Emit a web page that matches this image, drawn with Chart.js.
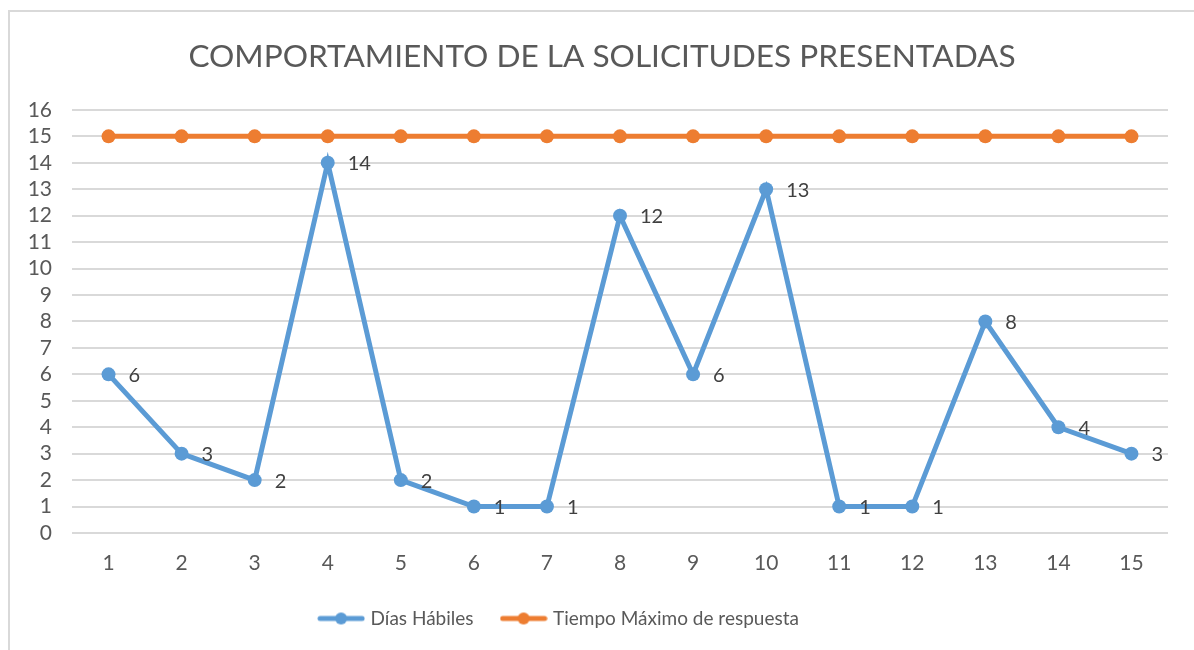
<!DOCTYPE html>
<html>
<head>
<meta charset="utf-8">
<script src="https://cdn.jsdelivr.net/npm/chart.js@4.4.1/dist/chart.umd.min.js"></script>
<style>
  html,body{margin:0;padding:0;background:#fff;overflow:hidden}
  .frame{position:absolute;left:8px;top:10px;width:1300px;height:800px;border:2px solid #d9d9d9;box-sizing:border-box}
  .wrap{position:absolute;left:0;top:0;width:1194px;height:650px}
</style>
</head>
<body>
<div class="frame"></div>
<div class="wrap"><canvas id="chart" width="1194" height="650"></canvas></div>
<script>
// ── Data ──
var categories=['1','2','3','4','5','6','7','8','9','10','11','12','13','14','15'];
var diasHabiles=[6,3,2,14,2,1,1,12,6,13,1,1,8,4,3];
var tiempoMaximo=[15,15,15,15,15,15,15,15,15,15,15,15,15,15,15];
var yTicks=[0,1,2,3,4,5,6,7,8,9,10,11,12,13,14,15,16];

var BLUE='#5B9BD5', ORANGE='#ED7D31', TEXT='#595959', GRID='#d9d9d9';
var FONT='Lato, "Open Sans", sans-serif';

// legend swatch: line with a dot in the middle, like Excel
function swatch(color){
  var c=document.createElement('canvas');c.width=48;c.height=14;
  var x=c.getContext('2d');
  x.strokeStyle=color;x.lineWidth=5;x.lineCap='round';
  x.beginPath();x.moveTo(3,7);x.lineTo(45,7);x.stroke();
  x.fillStyle=color;x.beginPath();x.arc(24,7,6,0,Math.PI*2);x.fill();
  return c;
}

// data labels to the right of the blue points
var pointLabels={
  id:'pointLabels',
  afterDatasetsDraw:function(chart){
    var ctx=chart.ctx, meta=chart.getDatasetMeta(0);
    ctx.save();
    ctx.font='20px '+FONT;ctx.fillStyle='#404040';
    ctx.textAlign='left';ctx.textBaseline='middle';
    meta.data.forEach(function(p,i){
      ctx.fillText(String(diasHabiles[i]),p.x+20,p.y+1);
    });
    ctx.restore();
  }
};

// Excel centres title and legend on its own frame, not the canvas
var boxShift={
  id:'boxShift',
  afterLayout:function(chart){
    var lg=chart.legend, tt=chart.titleBlock;
    if(lg){lg.left-=24;lg.right-=24;}
    if(tt){tt.left+=18;tt.right+=18;}
  }
};

new Chart(document.getElementById('chart'),{
  type:'line',
  data:{
    labels:categories,
    datasets:[
      {label:'Días Hábiles',data:diasHabiles,borderColor:BLUE,backgroundColor:BLUE,borderWidth:5,pointRadius:7,pointBackgroundColor:BLUE,pointBorderWidth:0,tension:0},
      {label:'Tiempo Máximo de respuesta',data:tiempoMaximo,borderColor:ORANGE,backgroundColor:ORANGE,borderWidth:5,pointRadius:7,pointBackgroundColor:ORANGE,pointBorderWidth:0,tension:0}
    ]
  },
  options:{
    responsive:false,animation:false,
    layout:{padding:{left:0,right:26,top:0,bottom:12}},
    plugins:{
      title:{display:true,text:'COMPORTAMIENTO DE LA SOLICITUDES PRESENTADAS',color:TEXT,font:{family:FONT,size:31.6,weight:'normal'},padding:{top:38,bottom:34}},
      legend:{position:'bottom',labels:{
        color:TEXT,font:{family:FONT,size:19},usePointStyle:true,pointStyleWidth:40,boxHeight:14,padding:30,
        generateLabels:function(chart){
          return chart.data.datasets.map(function(ds,i){
            return {text:ds.label,fillStyle:ds.borderColor,strokeStyle:ds.borderColor,lineWidth:0,pointStyle:swatch(ds.borderColor),datasetIndex:i,fontColor:TEXT};
          });
        }
      }},
      tooltip:{enabled:false}
    },
    scales:{
      x:{
        offset:true,
        grid:{display:false},border:{display:false},
        ticks:{color:TEXT,font:{family:FONT,size:21},padding:10},
        afterFit:function(s){s.height=46}
      },
      y:{
        min:0,max:16,
        afterBuildTicks:function(s){s.ticks=yTicks.map(function(v){return {value:v}})},
        grid:{color:GRID,lineWidth:2,drawTicks:false},border:{display:false},
        ticks:{color:TEXT,font:{family:FONT,size:21},padding:20,autoSkip:false},
        afterFit:function(s){s.width=72}
      }
    }
  },
  plugins:[pointLabels,boxShift]
});
</script>
</body>
</html>
